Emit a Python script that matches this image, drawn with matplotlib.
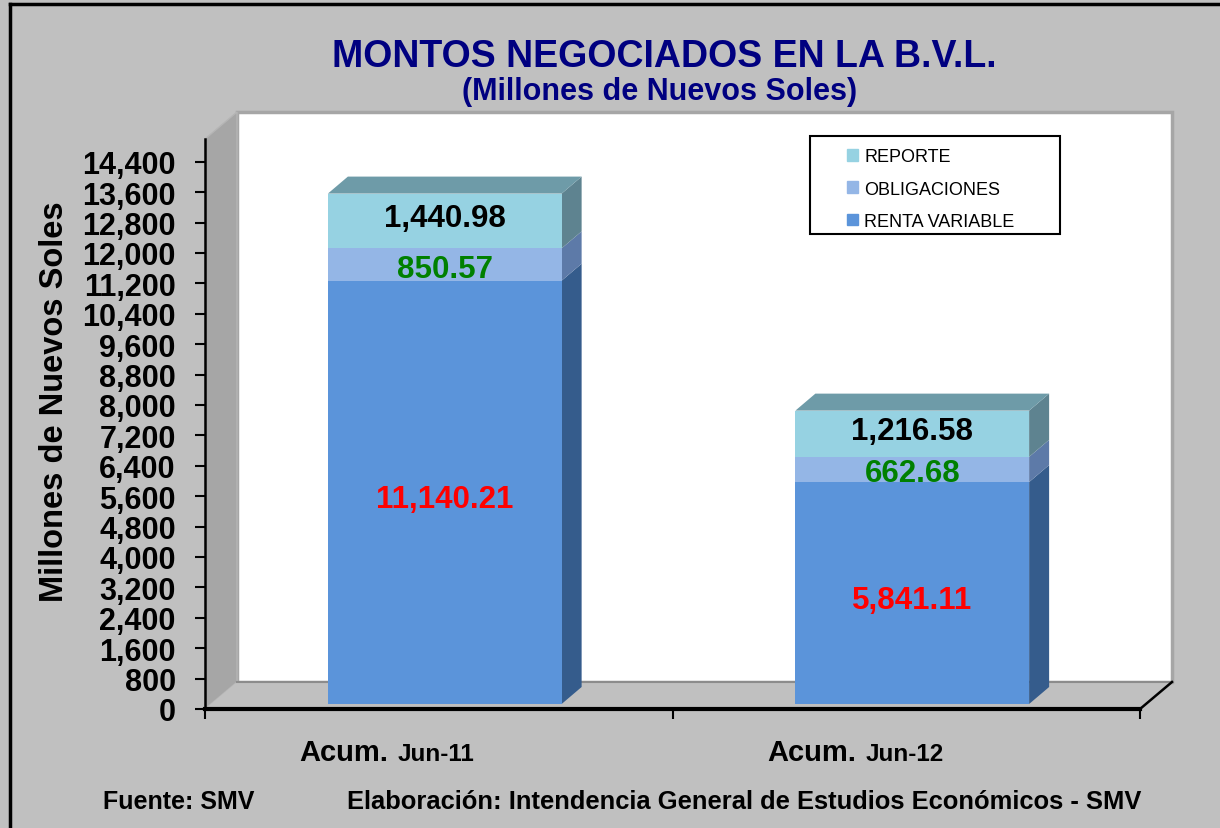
import matplotlib.pyplot as plt
from matplotlib.patches import Polygon, Rectangle, Patch
from matplotlib.lines import Line2D
import matplotlib.transforms as mtransforms

# datos (millones de nuevos soles)
categorias = ["Jun-11", "Jun-12"]
renta_variable = [11140.21, 5841.11]
obligaciones = [850.57, 662.68]
reporte = [1440.98, 1216.58]
series = ["RENTA VARIABLE", "OBLIGACIONES", "REPORTE"]
yticks = list(range(0, 14401, 800))

# colores: frente, lado, tapa
colores = {
    "RENTA VARIABLE": ("#5B94DA", "#355C8C", "#4A7AB5"),
    "OBLIGACIONES": ("#94B6E6", "#5D7AA8", "#7A98C8"),
    "REPORTE": ("#96D2E2", "#5E8390", "#6E9BA8"),
}
color_label = {"RENTA VARIABLE": "#FF0000", "OBLIGACIONES": "#008000", "REPORTE": "black"}
# ajuste vertical de la etiqueta (px)
ajuste_label = {"RENTA VARIABLE": -7, "OBLIGACIONES": -4, "REPORTE": 3}

plt.rcParams['font.family'] = ['Liberation Sans', 'DejaVu Sans']

W, H = 1220, 829
fig = plt.figure(figsize=(W / 100, H / 100), dpi=100, facecolor='#C0C0C0')
ax = fig.add_axes([205 / W, (H - 710) / H, 935 / W, 570 / H])
ymax = 15000
ax.set_xlim(-0.5, 1.5)
ax.set_ylim(0, ymax)
ax.patch.set_visible(False)

# pixeles -> unidades de datos (para el efecto 3D)
px_x = 935 / 2.0
px_y = 570 / ymax
def dx(p):
    return p / px_x
def dy(p):
    return p / px_y

# paredes y piso
wx, wy = dx(32), dy(27)
ax.add_patch(Rectangle((-0.5 + wx, wy), 2, ymax, facecolor='white', edgecolor='#A6A6A6',
                       lw=2.5, clip_on=False, zorder=0))
ax.add_patch(Polygon([(-0.5, 0), (-0.5 + wx, wy), (-0.5 + wx, ymax + wy), (-0.5, ymax)],
                     closed=True, fc='#A6A6A6', ec='#B5B5B5', lw=1, clip_on=False, zorder=1))
ax.add_patch(Polygon([(-0.5, 0), (1.5, 0), (1.5 + wx, wy), (-0.5 + wx, wy)],
                     closed=True, fc='#C0C0C0', ec='none', clip_on=False, zorder=1))
ax.add_line(Line2D([-0.5 + wx, 1.5 + wx], [wy, wy], color='#8C8C8C', lw=1.5, zorder=1, clip_on=False))
ax.add_line(Line2D([1.5, 1.5 + wx], [0, wy], color='black', lw=1.8, zorder=5, clip_on=False))

# barras apiladas con profundidad
ox, oy = dx(6), dy(5)
bx, by = dx(20), dy(17)
ancho = 0.5
datos = {"RENTA VARIABLE": renta_variable, "OBLIGACIONES": obligaciones, "REPORTE": reporte}
for i in range(len(categorias)):
    base = 0
    for k, nombre in enumerate(series):
        v = datos[nombre][i]
        frente, lado, tapa = colores[nombre]
        x0 = i - ancho / 2 + ox
        x1 = i + ancho / 2 + ox
        y0 = base + oy
        y1 = base + v + oy
        ax.bar(i + ox, v, width=ancho, bottom=y0, color=frente, zorder=4, clip_on=False)
        ax.add_patch(Polygon([(x1, y0), (x1 + bx, y0 + by), (x1 + bx, y1 + by), (x1, y1)],
                             closed=True, fc=lado, ec='none', zorder=3, clip_on=False))
        if k == len(series) - 1:
            ax.add_patch(Polygon([(x0, y1), (x1, y1), (x1 + bx, y1 + by), (x0 + bx, y1 + by)],
                                 closed=True, fc=tapa, ec='none', zorder=3, clip_on=False))
        ax.text(i + ox, (y0 + y1) / 2 + dy(ajuste_label[nombre]), f"{v:,.2f}", ha='center',
                va='center', fontsize=22.5, fontweight='bold', color=color_label[nombre], zorder=6)
        base += v

# ejes
for s in ['top', 'right']:
    ax.spines[s].set_visible(False)
ax.spines['left'].set_linewidth(1.8)
ax.spines['bottom'].set_linewidth(3)
ax.spines['left'].set_zorder(5)
ax.spines['bottom'].set_zorder(5)
ax.set_yticks(yticks)
ax.set_yticklabels([f"{t:,}" for t in yticks], fontsize=22, fontweight='bold')
ax.tick_params(axis='y', direction='out', length=7, width=1.5, pad=14)
ax.set_xticks([-0.5, 0.5, 1.5])
ax.set_xticklabels([])
ax.tick_params(axis='x', direction='out', length=7, width=1.5)

# etiquetas de categorias
tr = mtransforms.blended_transform_factory(ax.transData, ax.transAxes)
yb = (710 - 761) / 570.0
for i, cat in enumerate(categorias):
    t1 = mtransforms.offset_copy(tr, fig=fig, x=-50, y=0, units='dots')
    t2 = mtransforms.offset_copy(tr, fig=fig, x=-41, y=0, units='dots')
    ax.text(i, yb, "Acum.", transform=t1, ha='right', va='baseline', fontsize=21,
            fontweight='bold')
    ax.text(i, yb, cat, transform=t2, ha='left', va='baseline', fontsize=17.5,
            fontweight='bold')

# leyenda
fig.patches.append(Rectangle((810 / W, (H - 235) / H), 250 / W, 98 / H, transform=fig.transFigure,
                             fc='white', ec='black', lw=1.5, zorder=5))
handles = [Patch(color=colores[n][0]) for n in series[::-1]]
leg = fig.legend(handles, series[::-1], loc='upper left', bbox_to_anchor=(840 / W, (H - 142) / H),
                 frameon=False, fontsize=13, handlelength=0.6, handleheight=0.6,
                 handletextpad=0.35, labelspacing=0.85, borderaxespad=0)
leg.set_zorder(6)

# titulos
fig.text(664 / W, (H - 67) / H, "MONTOS NEGOCIADOS EN LA B.V.L.", ha='center', va='baseline',
         fontsize=27, fontweight='bold', color='#000080')
fig.text(660 / W, (H - 100) / H, "(Millones de Nuevos Soles)", ha='center', va='baseline',
         fontsize=22, fontweight='bold', color='#000080')
fig.text(55 / W, (H - 402) / H, "Millones de Nuevos Soles", rotation=90, ha='center', va='center',
         fontsize=23.5, fontweight='bold')

# fuente
fig.text(103 / W, (H - 809) / H, "Fuente: SMV", ha='left', va='baseline', fontsize=18,
         fontweight='bold')
fig.text(347 / W, (H - 809) / H, "Elaboración: Intendencia General de Estudios Económicos - SMV",
         ha='left', va='baseline', fontsize=18.4, fontweight='bold')

# marco
fig.lines.append(Line2D([10 / W, 1], [1 - 5 / H, 1 - 5 / H], transform=fig.transFigure, color='black', lw=2.5))
fig.lines.append(Line2D([10 / W, 10 / W], [0, 1 - 5 / H], transform=fig.transFigure, color='black', lw=2.5))

fig.savefig("out.png", dpi=100, facecolor=fig.get_facecolor())
